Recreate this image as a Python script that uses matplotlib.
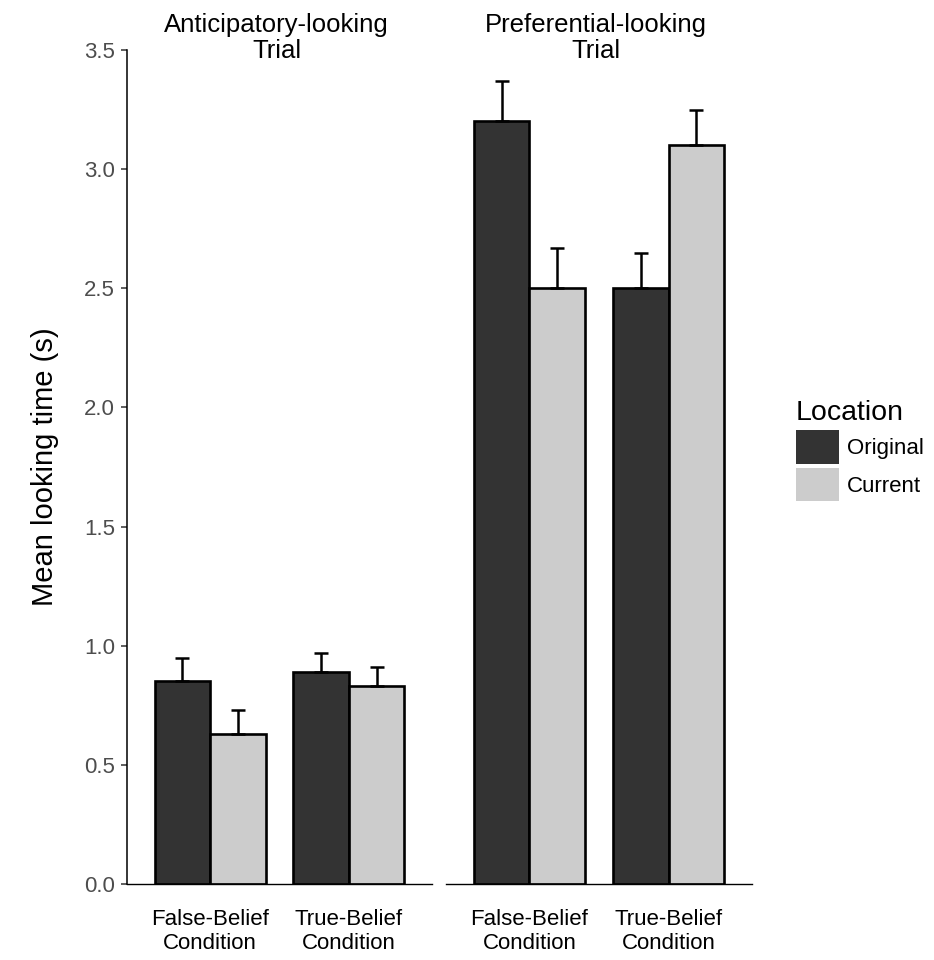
import matplotlib
matplotlib.use("Agg")
import matplotlib.pyplot as plt
from matplotlib.patches import Patch
import numpy as np

plt.rcParams['font.family'] = ['Liberation Sans', 'DejaVu Sans']

trials = ["Anticipatory-looking\nTrial", "Preferential-looking\nTrial"]
conditions = ["False-Belief\nCondition", "True-Belief\nCondition"]
locations = ["Original", "Current"]
colors = ["#333333", "#cccccc"]

# means per location across conditions
antic_original = [0.85, 0.89]
antic_current = [0.63, 0.83]
pref_original = [3.20, 2.50]
pref_current = [2.50, 3.10]
# upper error (SE)
antic_original_se = [0.10, 0.08]
antic_current_se = [0.10, 0.08]
pref_original_se = [0.17, 0.15]
pref_current_se = [0.17, 0.15]

y_ticks = [0.0, 0.5, 1.0, 1.5, 2.0, 2.5, 3.0, 3.5]
y_label = "Mean looking time (s)"
legend_title = "Location"

means = [[antic_original, antic_current], [pref_original, pref_current]]
ses = [[antic_original_se, antic_current_se], [pref_original_se, pref_current_se]]

W, H = 934, 960
fig = plt.figure(figsize=(W / 100, H / 100), dpi=100)

panels = [(127, 432), (446, 752)]
top_px, bot_px = 50, 884
for i, (l, r) in enumerate(panels):
    ax = fig.add_axes([l / W, 1 - bot_px / H, (r - l) / W, (bot_px - top_px) / H])
    x = np.arange(1, len(conditions) + 1)
    bw = 0.4
    for j, loc in enumerate(locations):
        xpos = x + (j - 0.5) * bw
        vals = np.array(means[i][j])
        err = np.array(ses[i][j])
        ax.bar(xpos, vals, width=bw, color=colors[j], edgecolor="black",
               linewidth=1.9, zorder=2)
        ax.errorbar(xpos, vals, yerr=[np.zeros_like(err), err], fmt="none",
                    ecolor="black", elinewidth=1.8, capsize=5, capthick=1.8,
                    zorder=3)
    ax.set_xlim(0.4, 2.6)
    ax.set_ylim(0, 3.5)
    ax.set_xticks(x)
    ax.set_xticklabels(conditions, fontsize=16, color="black")
    ax.tick_params(axis="x", length=0, pad=18)
    for s in ["top", "right"]:
        ax.spines[s].set_visible(False)
    ax.spines["bottom"].set_linewidth(1.0)
    ax.spines["left"].set_linewidth(1.1)
    if i == 0:
        ax.set_yticks(y_ticks)
        ax.set_yticklabels([f"{v:.1f}" for v in y_ticks], fontsize=16, color="#4d4d4d")
        ax.tick_params(axis="y", length=4.5, width=1.1, color="#333333", pad=4)
        ax.set_ylabel(y_label, fontsize=21, labelpad=18)
    else:
        ax.spines["left"].set_visible(False)
        ax.set_yticks([])
    cx = (l + r) / 2 / W
    fig.text(cx - 3 / W, 1 - 38 / H, trials[i], ha="center", va="center",
             fontsize=18.5, linespacing=1.15)

handles = [Patch(facecolor=c, edgecolor="none") for c in colors]
leg = fig.legend(handles, locations, title=legend_title, loc="upper left",
                 bbox_to_anchor=(796 / W, 1 - 400 / H), frameon=False,
                 fontsize=16, title_fontsize=20.5, handlelength=1.95,
                 handleheight=1.95, labelspacing=0.18, handletextpad=0.35,
                 borderpad=0, borderaxespad=0, alignment="left")

fig.savefig("out.png", dpi=100)
